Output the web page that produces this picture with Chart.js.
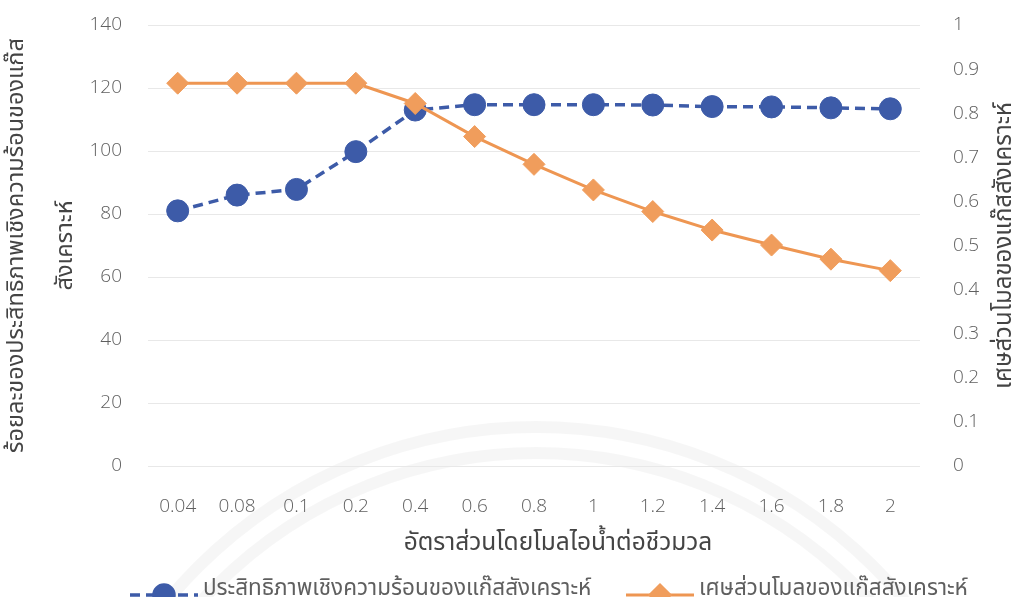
<!DOCTYPE html>
<html>
<head>
<meta charset="utf-8">
<script src="https://cdn.jsdelivr.net/npm/chart.js@4.4.0/dist/chart.umd.min.js"></script>
<style>
  html, body { margin: 0; padding: 0; background: #fff; overflow: hidden; }
  #wrap { width: 1023px; height: 597px; }
</style>
</head>
<body>
<div id="wrap"><canvas id="graph_syngas"></canvas></div>
<script>
// steam-to-biomass molar ratio (category axis)
const ratioLabels = ['0.04', '0.08', '0.1', '0.2', '0.4', '0.6', '0.8', '1', '1.2', '1.4', '1.6', '1.8', '2'];
// thermal efficiency of syngas, % (left axis)
const efficiency = [81, 86, 87.8, 99.8, 113, 114.7, 114.7, 114.7, 114.6, 114.1, 114, 113.7, 113.4];
// syngas mole fraction (right axis)
const moleFraction = [0.868, 0.868, 0.868, 0.868, 0.822, 0.747, 0.684, 0.626, 0.577, 0.535, 0.501, 0.469, 0.443];

const efficiencyLabel = 'ประสิทธิภาพเชิงความร้อนของแก๊สสังเคราะห์';
const fractionLabel = 'เศษส่วนโมลของแก๊สสังเคราะห์';
const xTitle = 'อัตราส่วนโดยโมลไอน้ำต่อชีวมวล';
const leftTitle = ['ร้อยละของประสิทธิภาพเชิงความร้อนของแก๊ส', 'สังเคราะห์'];
const rightTitle = 'เศษส่วนโมลของแก๊สสังเคราะห์';

const thaiFamily = "'Noto Sans Thai', 'Noto Sans', sans-serif";
const tickFont = { size: 19, family: "'Open Sans', 'Noto Sans', sans-serif", weight: 300 };
const tickColor = '#5f5f5f';
const titleColor = '#444';

// faint arcs of the page watermark, behind everything
const watermark = {
  id: 'watermark',
  beforeDraw(chart) {
    const ctx = chart.ctx;
    ctx.save();
    ctx.strokeStyle = 'rgba(0,0,0,0.035)';
    ctx.lineWidth = 12;
    [478, 452].forEach(r => {
      ctx.beginPath();
      ctx.arc(536, 905, r, Math.PI, 2 * Math.PI);
      ctx.stroke();
    });
    ctx.restore();
  }
};

// axis titles: both vertical titles read bottom-to-top
const axisTitles = {
  id: 'axisTitles',
  afterDraw(chart) {
    const {ctx, chartArea} = chart;
    const midY = (chartArea.top + chartArea.bottom) / 2;
    ctx.save();
    ctx.fillStyle = titleColor;
    ctx.textAlign = 'center';
    ctx.textBaseline = 'middle';
    ctx.font = "24.5px " + thaiFamily;
    ctx.fillText(xTitle, (chartArea.left + chartArea.right) / 2 + 24, chartArea.bottom + 79);
    ctx.font = "23.5px " + thaiFamily;
    leftTitle.forEach((line, i) => {
      ctx.save();
      ctx.translate(18 + i * 49, midY);
      ctx.rotate(-Math.PI / 2);
      ctx.fillText(line, 0, 0);
      ctx.restore();
    });
    ctx.font = "24px " + thaiFamily;
    ctx.save();
    ctx.translate(chart.width - 17, midY);
    ctx.rotate(-Math.PI / 2);
    ctx.fillText(rightTitle, 0, 0);
    ctx.restore();
    ctx.restore();
  }
};

// legend with line sample + marker, like an office chart
const lineLegend = {
  id: 'lineLegend',
  afterDraw(chart) {
    const ctx = chart.ctx;
    const y = 595;
    const starts = [130, 626];
    chart.data.datasets.forEach((ds, i) => {
      const x0 = starts[i], x1 = x0 + 68, xm = (x0 + x1) / 2;
      ctx.save();
      ctx.strokeStyle = ds.borderColor;
      ctx.lineWidth = ds.borderWidth;
      ctx.setLineDash(ds.borderDash || []);
      ctx.beginPath();
      ctx.moveTo(x0, y);
      ctx.lineTo(x1, y);
      ctx.stroke();
      ctx.setLineDash([]);
      ctx.fillStyle = ds.pointBackgroundColor;
      ctx.strokeStyle = ds.pointBorderColor;
      Chart.helpers.drawPoint(ctx, {pointStyle: ds.pointStyle, radius: ds.pointRadius - 1, borderWidth: 1, rotation: 0}, xm, y);
      ctx.fillStyle = tickColor;
      ctx.font = "22.5px " + thaiFamily;
      ctx.textAlign = 'left';
      ctx.textBaseline = 'middle';
      ctx.fillText(ds.label, x1 + 5, y - 5);
      ctx.restore();
    });
  }
};

const syngasChart = new Chart('graph_syngas', {
  type: 'line',
  data: {
    labels: ratioLabels,
    datasets: [
      {
        label: efficiencyLabel,
        data: efficiency,
        yAxisID: 'y',
        borderColor: '#3d5ba8',
        borderWidth: 3.5,
        borderDash: [10, 6],
        pointStyle: 'circle',
        pointRadius: 11,
        pointBackgroundColor: '#3d5ba8',
        pointBorderColor: '#3d5ba8',
        pointBorderWidth: 1,
        order: 2
      },
      {
        label: fractionLabel,
        data: moleFraction,
        yAxisID: 'y2',
        borderColor: '#ee9652',
        borderWidth: 3,
        pointStyle: 'rectRot',
        pointRadius: 11,
        pointBackgroundColor: '#f09d5c',
        pointBorderColor: '#f09d5c',
        pointBorderWidth: 1,
        order: 1
      }
    ]
  },
  options: {
    responsive: true,
    maintainAspectRatio: false,
    animation: false,
    layout: { padding: { top: 25, left: 0, right: 0, bottom: 0 } },
    plugins: {
      legend: { display: false },
      tooltip: { enabled: false }
    },
    scales: {
      x: {
        offset: true,
        grid: { display: false, offset: true },
        border: { display: false },
        ticks: { color: tickColor, font: tickFont, padding: 21, maxRotation: 0 },
        afterFit: scale => { scale.height = 131; }
      },
      y: {
        position: 'left',
        min: 0,
        max: 140,
        ticks: { stepSize: 20, color: tickColor, font: tickFont, padding: 0 },
        // invisible tick marks push the labels away from the plot
        grid: { color: '#e8e8e8', drawTicks: true, tickLength: 26, tickColor: 'rgba(0,0,0,0)' },
        border: { display: false },
        afterFit: scale => { scale.width = 148; }
      },
      y2: {
        position: 'right',
        min: 0,
        max: 1,
        ticks: {
          stepSize: 0.1,
          color: tickColor,
          font: tickFont,
          padding: 0,
          callback: value => String(Number(value.toFixed(2)))
        },
        grid: { display: false, drawTicks: true, tickLength: 33 },
        border: { display: false },
        afterFit: scale => { scale.width = 103; }
      }
    }
  },
  plugins: [watermark, axisTitles, lineLegend]
});
</script>
</body>
</html>
